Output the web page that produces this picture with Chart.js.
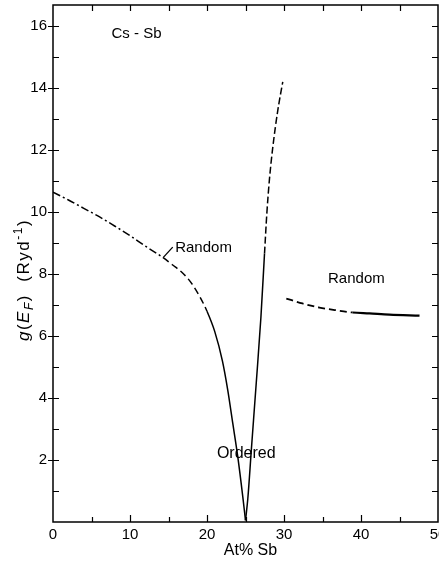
<!DOCTYPE html>
<html>
<head>
<meta charset="utf-8">
<script src="https://cdn.jsdelivr.net/npm/chart.js@4"></script>
<style>
  html, body { margin: 0; padding: 0; background: #fff; }
  canvas { display: block; }
</style>
</head>
<body>
<canvas id="chart" width="439" height="576"></canvas>
<script>
// Density of states at the Fermi level for liquid Cs-Sb alloys

// Cs-rich branch: random alloy (dash-dot), bridge (dashed), ordered fall to Cs3Sb (solid)
const lowBranchX = [0, 2, 4, 6, 8, 10, 12, 14.3, 15.5, 16.9, 18, 19, 20, 21, 22, 22.7, 23.35, 24.0, 24.65, 25.0];
const lowBranchY = [10.64, 10.39, 10.12, 9.85, 9.55, 9.24, 8.9, 8.53, 8.3, 8.02, 7.7, 7.3, 6.8, 6.15, 5.2, 4.25, 3.18, 2.10, 0.81, 0.05];

// Rising branch beyond Cs3Sb: ordered (solid) then dashed
const riseBranchX = [25.0, 25.3, 25.75, 26.4, 27.0, 27.47, 27.77, 28.1, 28.55, 29.2, 29.84];
const riseBranchY = [0.05, 0.75, 2.3, 4.5, 6.6, 8.66, 9.95, 11.03, 12.1, 13.29, 14.2];

// Sb-rich random alloy: dashed then solid
const sbRichX = [30.3, 32.4, 34.6, 36.8, 38.9, 41.1, 43.7, 47.6];
const sbRichY = [7.21, 7.05, 6.92, 6.83, 6.76, 6.73, 6.69, 6.66];

// Where the line style changes along each branch (at% Sb)
const dashDotEnd = 14.3;
const orderedStart = 19.5;
const orderedEnd = 27.47;
const sbSolidStart = 38.9;

// Axis ranges and labelled ticks
const xMin = 0, xMax = 50, xStep = 10, xMinorStep = 5;
const yMin = 0, yMax = 16.68, yStep = 2, yMinorStep = 1;

const FONT = '"Liberation Sans", Arial, sans-serif';
const DASH = [7, 4];
const DASH_DOT = [8, 3, 2, 3];

function pts(xs, ys) { return xs.map((x, i) => ({ x: x, y: ys[i] })); }

function curve(xs, ys, segment) {
  return {
    data: pts(xs, ys),
    showLine: true,
    borderColor: '#000',
    borderWidth: 1.5,
    borderCapStyle: 'butt',
    pointRadius: 0,
    pointHoverRadius: 0,
    cubicInterpolationMode: 'monotone',
    fill: false,
    segment: segment
  };
}

const frame = {
  id: 'frame',
  afterDraw(chart) {
    const ctx = chart.ctx;
    const xs = chart.scales.x, ys = chart.scales.y;
    const a = chart.chartArea;
    ctx.save();
    ctx.strokeStyle = '#000';
    ctx.lineWidth = 1.5;
    ctx.strokeRect(a.left, a.top, a.right - a.left, a.bottom - a.top);

    ctx.lineWidth = 1.2;
    ctx.beginPath();
    // vertical axes: ticks every unit
    for (let v = yMinorStep; v <= yMax; v += yMinorStep) {
      const py = Math.round(ys.getPixelForValue(v)) + 0.5;
      const major = v % yStep === 0;
      ctx.moveTo(a.left - (major ? 5 : 0), py);
      ctx.lineTo(a.left + 6, py);
      ctx.moveTo(a.right, py);
      ctx.lineTo(a.right - 6, py);
    }
    // horizontal axes: ticks every 5 at%
    for (let v = xMinorStep; v < xMax; v += xMinorStep) {
      const px = Math.round(xs.getPixelForValue(v)) + 0.5;
      const major = v % xStep === 0;
      ctx.moveTo(px, a.bottom);
      ctx.lineTo(px, a.bottom - (major ? 7 : 5));
      ctx.moveTo(px, a.top);
      ctx.lineTo(px, a.top + 6);
    }
    ctx.stroke();

    // curve annotations
    ctx.fillStyle = '#000';
    ctx.textAlign = 'center';
    ctx.textBaseline = 'middle';
    ctx.font = '15px ' + FONT;
    const label = (t, x, y) => ctx.fillText(t, xs.getPixelForValue(x), ys.getPixelForValue(y));
    label('Cs - Sb', 10.84, 15.74);
    label('Random', 19.55, 8.86);
    label('Random', 39.4, 7.86);
    ctx.font = '16px ' + FONT;
    label('Ordered', 25.1, 2.22);

    // pointer from the left "Random" label to its curve
    ctx.lineWidth = 1.3;
    ctx.beginPath();
    ctx.moveTo(xs.getPixelForValue(14.3), ys.getPixelForValue(8.53));
    ctx.lineTo(xs.getPixelForValue(15.55), ys.getPixelForValue(8.87));
    ctx.stroke();

    // x axis title
    ctx.font = '16px ' + FONT;
    ctx.fillText('At% Sb', (a.left + a.right) / 2 + 5, 551);

    // y axis title with subscript and superscript
    ctx.translate(24, 280);
    ctx.rotate(-Math.PI / 2);
    ctx.textAlign = 'left';
    ctx.textBaseline = 'alphabetic';
    const parts = [
      ['g', 'italic 17px', 0],
      ['(', '17px', 0],
      ['E', 'italic 17px', 0],
      ['F', 'italic 12px', 4],
      [')  (Ryd', '17px', 0],
      ['-1', '12px', -7],
      [')', '17px', 0]
    ];
    ctx.letterSpacing = '1.5px';
    let w = 0;
    parts.forEach(p => { ctx.font = p[1] + ' ' + FONT; w += ctx.measureText(p[0]).width; });
    let cx = -w / 2;
    parts.forEach(p => {
      ctx.font = p[1] + ' ' + FONT;
      ctx.fillText(p[0], cx, 5 + p[2]);
      cx += ctx.measureText(p[0]).width;
    });
    ctx.restore();
  }
};

new Chart(document.getElementById('chart'), {
  type: 'scatter',
  data: {
    datasets: [
      curve(lowBranchX, lowBranchY, {
        borderDash: c => (c.p0.parsed.x < dashDotEnd ? DASH_DOT : c.p0.parsed.x < orderedStart ? DASH : [])
      }),
      curve(riseBranchX, riseBranchY, {
        borderDash: c => (c.p0.parsed.x < orderedEnd ? [] : [7, 3])
      }),
      curve(sbRichX, sbRichY, {
        borderDash: c => (c.p0.parsed.x < sbSolidStart ? DASH : []),
        borderWidth: c => (c.p0.parsed.x < sbSolidStart ? 1.8 : 2.2)
      })
    ]
  },
  options: {
    responsive: false,
    devicePixelRatio: 1,
    animation: false,
    events: [],
    layout: { padding: { top: 5, right: 1, left: 0, bottom: 0 } },
    plugins: { legend: { display: false }, tooltip: { enabled: false } },
    scales: {
      x: {
        type: 'linear',
        min: xMin, max: xMax,
        grid: { display: false, drawTicks: false },
        border: { display: false },
        ticks: {
          stepSize: xStep, autoSkip: false, maxRotation: 0, padding: 4,
          color: '#000', font: { family: FONT, size: 15 }
        },
        afterFit(s) { s.height = 54; s.paddingLeft = 0; s.paddingRight = 0; }
      },
      y: {
        type: 'linear',
        min: yMin, max: yMax,
        grid: { display: false, drawTicks: false },
        border: { display: false },
        ticks: {
          stepSize: yStep, includeBounds: false, padding: 6,
          color: '#000', font: { family: FONT, size: 15 },
          callback: v => (v === 0 ? '' : v)
        },
        afterFit(s) { s.width = 53; s.paddingTop = 0; s.paddingBottom = 0; }
      }
    }
  },
  plugins: [frame]
});
</script>
</body>
</html>
